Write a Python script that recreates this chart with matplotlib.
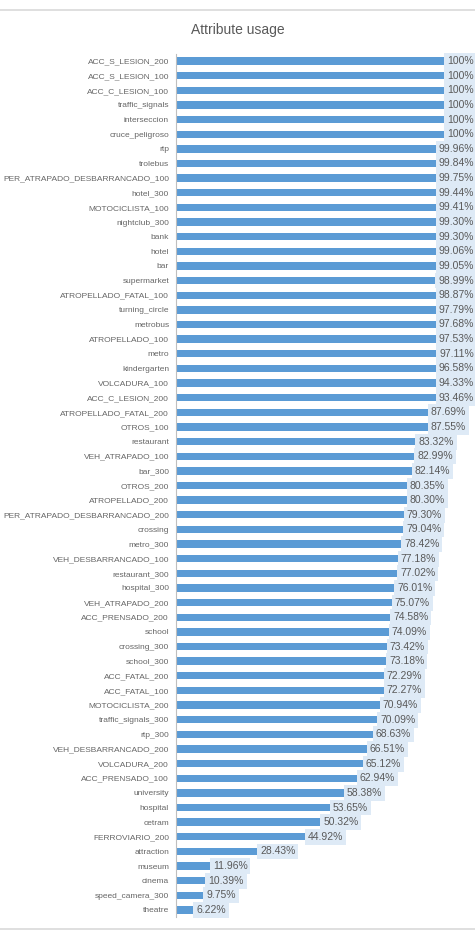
import matplotlib
matplotlib.use("Agg")
import matplotlib.pyplot as plt
from matplotlib.lines import Line2D

# --- data (top to bottom) ---------------------------------------------------
attributes = [
    "ACC_S_LESION_200", "ACC_S_LESION_100", "ACC_C_LESION_100", "traffic_signals",
    "interseccion", "cruce_peligroso", "rtp", "trolebus",
    "PER_ATRAPADO_DESBARRANCADO_100", "hotel_300", "MOTOCICLISTA_100",
    "nightclub_300", "bank", "hotel", "bar", "supermarket",
    "ATROPELLADO_FATAL_100", "turning_circle", "metrobus", "ATROPELLADO_100",
    "metro", "kindergarten", "VOLCADURA_100", "ACC_C_LESION_200",
    "ATROPELLADO_FATAL_200", "OTROS_100", "restaurant", "VEH_ATRAPADO_100",
    "bar_300", "OTROS_200", "ATROPELLADO_200", "PER_ATRAPADO_DESBARRANCADO_200",
    "crossing", "metro_300", "VEH_DESBARRANCADO_100", "restaurant_300",
    "hospital_300", "VEH_ATRAPADO_200", "ACC_PRENSADO_200", "school",
    "crossing_300", "school_300", "ACC_FATAL_200", "ACC_FATAL_100",
    "MOTOCICLISTA_200", "traffic_signals_300", "rtp_300", "VEH_DESBARRANCADO_200",
    "VOLCADURA_200", "ACC_PRENSADO_100", "university", "hospital", "cetram",
    "FERROVIARIO_200", "attraction", "museum", "cinema", "speed_camera_300",
    "theatre",
]
usage = [
    100, 100, 100, 100, 100, 100, 99.96, 99.84, 99.75, 99.44, 99.41, 99.30,
    99.30, 99.06, 99.05, 98.99, 98.87, 97.79, 97.68, 97.53, 97.11, 96.58,
    94.33, 93.46, 87.69, 87.55, 83.32, 82.99, 82.14, 80.35, 80.30, 79.30,
    79.04, 78.42, 77.18, 77.02, 76.01, 75.07, 74.58, 74.09, 73.42, 73.18,
    72.29, 72.27, 70.94, 70.09, 68.63, 66.51, 65.12, 62.94, 58.38, 53.65,
    50.32, 44.92, 28.43, 11.96, 10.39, 9.75, 6.22,
]
value_labels = ["100%" if v == 100 else f"{v:.2f}%" for v in usage]

plt.rcParams['font.family'] = ['Liberation Sans Narrow', 'Liberation Sans', 'DejaVu Sans']

TEXT = '#595959'
TICK_TEXT = '#666666'
BAR = '#5B9BD5'
LABEL_BG = '#DEEAF6'

W, H = 475, 933
fig = plt.figure(figsize=(W / 100, H / 100), dpi=100)
ax = fig.add_axes([176 / W, 1 - 917.3 / H, (464 - 176) / W, (917.3 - 53.7) / H])

ypos = list(range(len(attributes)))
ax.barh(ypos, usage, height=0.5, color=BAR)
ax.set_xlim(0, 100)
ax.set_ylim(len(attributes) - 0.5, -0.5)

ax.set_yticks(ypos)
ax.set_yticklabels(attributes, fontsize=6.0, color=TICK_TEXT)
ax.tick_params(axis='y', length=0, pad=5)
ax.set_xticks([])
for side in ['top', 'right', 'bottom']:
    ax.spines[side].set_visible(False)
ax.spines['left'].set_color('#bfbfbf')
ax.spines['left'].set_linewidth(0.8)

# value labels: just past the bar end, pushed back inside when they would
# run off the right edge (they then sit over the bar end)
renderer = fig.canvas.get_renderer()
x_limit = ax.transData.inverted().transform((474, 0))[0]
for y, v, lab in zip(ypos, usage, value_labels):
    t = ax.text(v + 0.8, y, lab, ha='left', va='center', fontsize=7.5,
                color=TEXT, family=['Liberation Sans', 'DejaVu Sans'],
                bbox=dict(boxstyle='square,pad=0.28', fc=LABEL_BG, ec='none'),
                clip_on=False, zorder=3)
    if t.get_window_extent(renderer).x1 > 474:
        t.set_ha('right')
        t.set_x(x_limit)

fig.text(0.5, 1 - 30 / H, 'Attribute usage', ha='center', va='center',
         fontsize=10, color=TEXT)

for yy in (10, 929):
    fig.add_artist(Line2D([0, 1], [1 - yy / H] * 2, color='#d9d9d9', lw=1.2))

fig.savefig('out.png', dpi=100)
